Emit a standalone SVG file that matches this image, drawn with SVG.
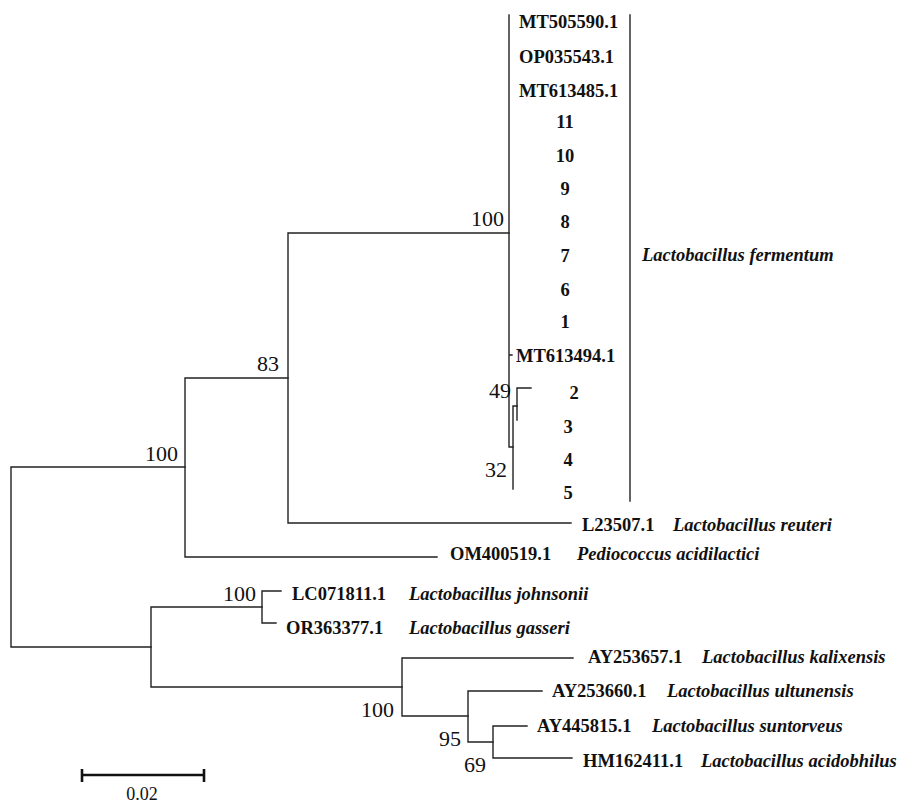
<svg xmlns="http://www.w3.org/2000/svg" width="902" height="804" viewBox="0 0 902 804">
<style>
.br{fill:none;stroke:#222;stroke-width:1.4;stroke-linecap:square}
.tip{font-family:"Liberation Serif","Times New Roman",serif;font-size:18.5px;font-weight:bold;fill:#111}
.sp{font-family:"Liberation Serif","Times New Roman",serif;font-size:18.5px;font-weight:bold;font-style:italic;fill:#111}
.bs{font-family:"Liberation Serif","Times New Roman",serif;font-size:22px;fill:#111;text-anchor:end}
.num{text-anchor:middle}
</style>
<rect width="902" height="804" fill="#fff"/>
<g id="connectors">
<path class="br" d="M11,467V647M11,467H185M11,647H151"/>
<path class="br" d="M185,378V557M185,378H288M185,557H437"/>
<path class="br" d="M288,233V523M288,233H509M288,523H571"/>
<path class="br" d="M509,15V447M509,355H512M509,447H513"/>
<path class="br" d="M513,406V489M513,406H517"/>
<path class="br" d="M517,388V420M517,388H531"/>
<path class="br" d="M151,607V687M151,607H262M151,687H402"/>
<path class="br" d="M262,591V623M262,591H281M262,623H276"/>
<path class="br" d="M402,658V716M402,658H573M402,716H468"/>
<path class="br" d="M468,691V742M468,691H542M468,742H493"/>
<path class="br" d="M493,726V758M493,726H527M493,758H572"/>
</g>
<g id="bootstrap">
<text class="bs" x="504" y="226">100</text>
<text class="bs" x="279" y="371">83</text>
<text class="bs" x="178" y="461">100</text>
<text class="bs" x="511" y="398">49</text>
<text class="bs" x="507" y="477">32</text>
<text class="bs" x="256" y="601">100</text>
<text class="bs" x="394" y="717">100</text>
<text class="bs" x="461" y="746">95</text>
<text class="bs" x="486" y="772">69</text>
</g>
<g id="tip-MT505590"><text class="tip" x="519" y="28">MT505590.1</text></g>
<g id="tip-OP035543"><text class="tip" x="519" y="63">OP035543.1</text></g>
<g id="tip-MT613485"><text class="tip" x="519" y="97">MT613485.1</text></g>
<g id="tip-11"><text class="tip num" x="565" y="128">11</text></g>
<g id="tip-10"><text class="tip num" x="565" y="162">10</text></g>
<g id="tip-9"><text class="tip num" x="565" y="195">9</text></g>
<g id="tip-8"><text class="tip num" x="565" y="228">8</text></g>
<g id="tip-7"><text class="tip num" x="565" y="262">7</text></g>
<g id="tip-6"><text class="tip num" x="565" y="296">6</text></g>
<g id="tip-1"><text class="tip num" x="565" y="328">1</text></g>
<g id="tip-MT613494"><text class="tip" x="516" y="362">MT613494.1</text></g>
<g id="tip-2"><text class="tip num" x="574" y="399">2</text></g>
<g id="tip-3"><text class="tip num" x="568" y="433">3</text></g>
<g id="tip-4"><text class="tip num" x="568" y="466">4</text></g>
<g id="tip-5"><text class="tip num" x="568" y="499">5</text></g>
<g id="clade-fermentum">
<path class="br" d="M630,15V501"/>
<text class="sp" x="642" y="261">Lactobacillus fermentum</text>
</g>
<g id="tip-L23507"><text class="tip" x="582" y="531">L23507.1</text><text class="sp" x="673" y="531">Lactobacillus reuteri</text></g>
<g id="tip-OM400519"><text class="tip" x="450" y="560">OM400519.1</text><text class="sp" x="577" y="560">Pediococcus acidilactici</text></g>
<g id="tip-LC071811"><text class="tip" x="292" y="600">LC071811.1</text><text class="sp" x="409" y="600">Lactobacillus johnsonii</text></g>
<g id="tip-OR363377"><text class="tip" x="286" y="634">OR363377.1</text><text class="sp" x="409" y="634">Lactobacillus gasseri</text></g>
<g id="tip-AY253657"><text class="tip" x="588" y="663">AY253657.1</text><text class="sp" x="702" y="663">Lactobacillus kalixensis</text></g>
<g id="tip-AY253660"><text class="tip" x="552" y="697">AY253660.1</text><text class="sp" x="667" y="697">Lactobacillus ultunensis</text></g>
<g id="tip-AY445815"><text class="tip" x="537" y="732">AY445815.1</text><text class="sp" x="652" y="732">Lactobacillus suntorveus</text></g>
<g id="tip-HM162411"><text class="tip" x="583" y="767">HM162411.1</text><text class="sp" x="701" y="767">Lactobacillus acidobhilus</text></g>
<g id="scale-bar">
<path d="M82,775H204M82,769V782M204,769V782" fill="none" stroke="#111" stroke-width="2.6"/>
<text x="142" y="800" text-anchor="middle" font-family="Liberation Serif, Times New Roman, serif" font-size="18" fill="#111">0.02</text>
</g>
</svg>
